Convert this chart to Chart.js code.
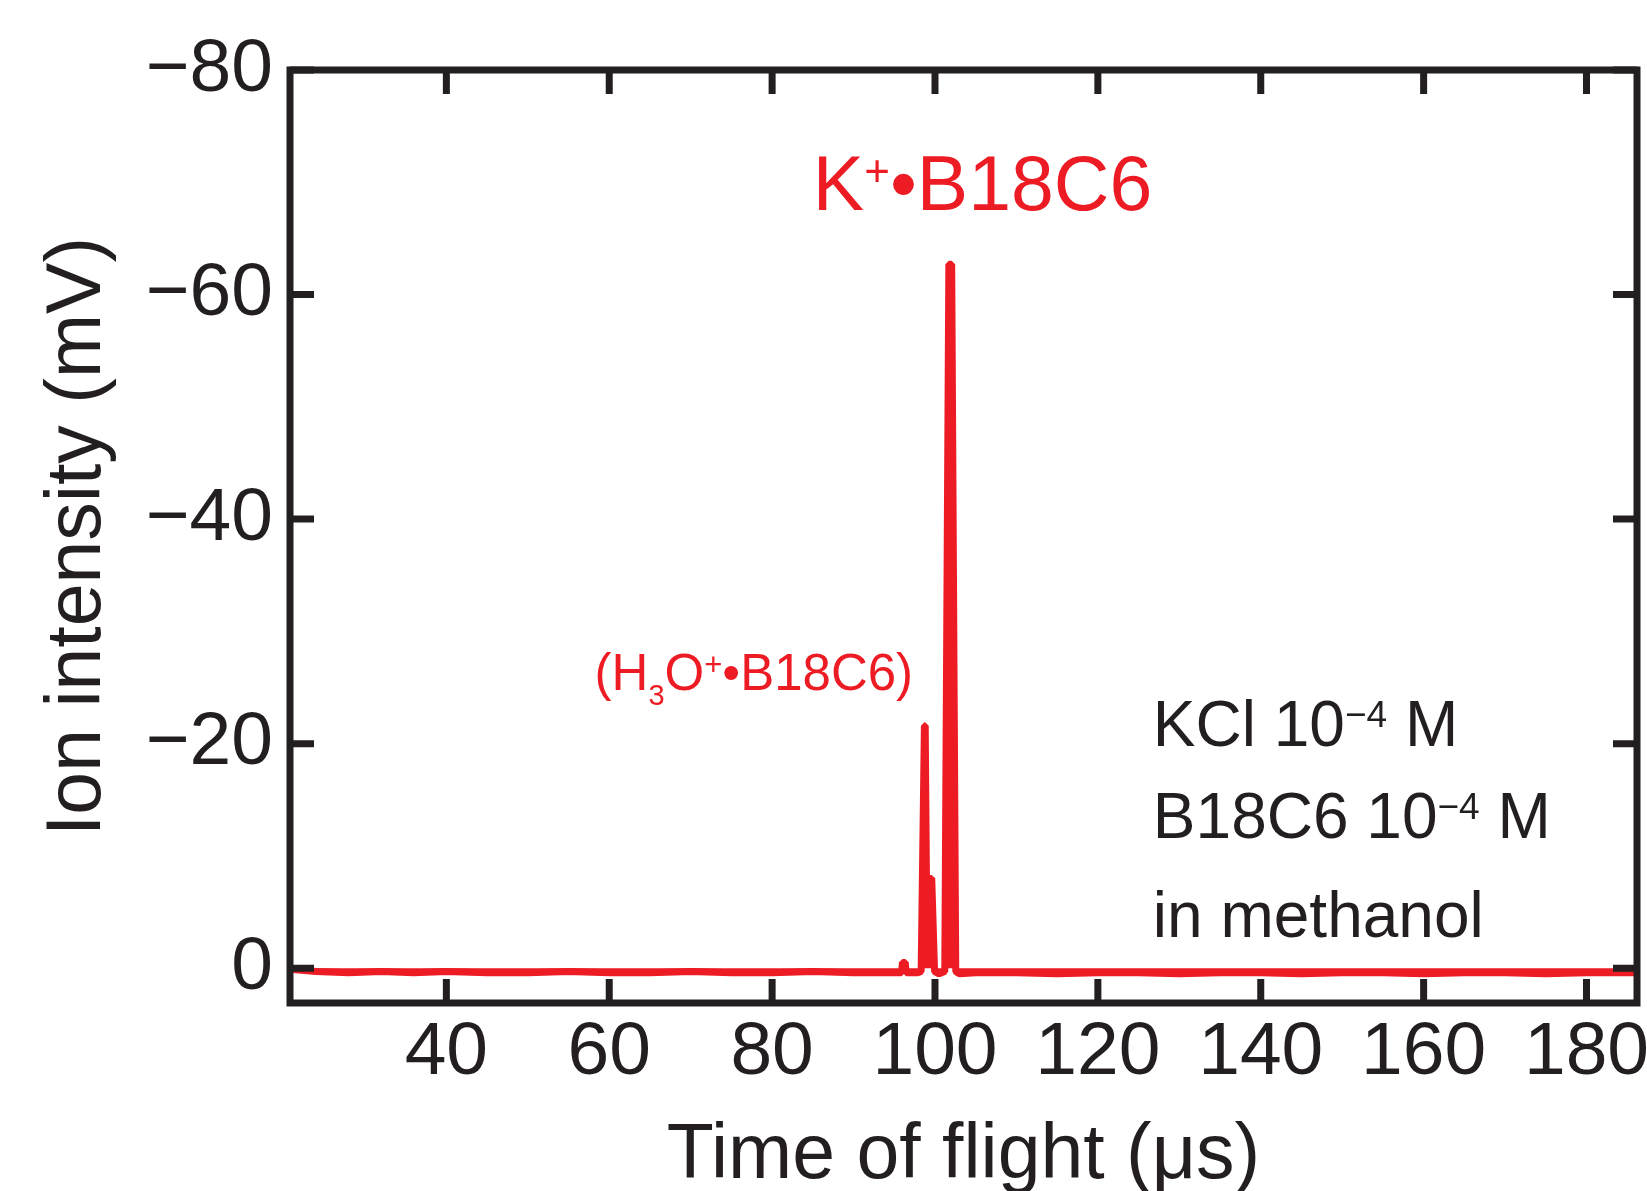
<!DOCTYPE html>
<html lang="en">
<head>
<meta charset="UTF-8">
<title>TOF spectrum K+ B18C6</title>
<script src="https://cdn.jsdelivr.net/npm/chart.js"></script>
<style>
  body, html { margin: 0; padding: 0; background: #fff; }
  canvas { display: block; }
</style>
</head>
<body>
<canvas id="chart" width="1647" height="1191"></canvas>
<script>
// trace: time of flight (us) vs ion intensity (mV)
const tofUs = [
  20.8, 24, 28, 32, 36, 40, 45, 50, 55, 60, 65, 70, 75, 80, 85, 90, 93, 95.9,
  96.0, 96.35, 96.45, 97.9, 98.3, 98.7, 98.8, 98.95, 99.6, 99.95, 100.5,
  101.2, 101.7, 102.05, 102.55, 103.0, 105, 110, 115, 120, 125, 130, 135,
  140, 145, 150, 155, 160, 165, 170, 175, 180, 183, 186.2
];
const intensityMv = [
  0.1, 0.3, 0.4, 0.3, 0.4, 0.3, 0.4, 0.4, 0.3, 0.4, 0.4, 0.3, 0.4, 0.4, 0.3, 0.4, 0.4, 0.4,
  -0.5, -0.5, 0.4, 0.4, 0.3, -21.6, -21.6, -8.0, -8.0, 0.3, 0.5,
  0.3, -62.7, -62.7, 0.3, 0.5, 0.4, 0.4, 0.5, 0.4, 0.4, 0.5, 0.4,
  0.4, 0.5, 0.4, 0.4, 0.5, 0.4, 0.4, 0.5, 0.4, 0.4, 0.4
];
const xTicks = [40, 60, 80, 100, 120, 140, 160, 180];
const yTicks = [-80, -60, -40, -20, 0];

const RED = '#ed1c24';
const INK = '#231f20';
const FONT = "'Liberation Sans', Arial, sans-serif";
const MINUS = '\u2212';

// annotations, anchored in data units (left edge, text baseline)
const notes = [
  { x: 85.0, y: -67.5, color: RED, parts: [
    { text: 'K', size: 77 },
    { text: '+', size: 44, dy: -24 },
    { text: '\u2022B18C6', size: 77 }
  ]},
  { x: 58.2, y: -24.8, color: RED, parts: [
    { text: '(H', size: 51 },
    { text: '3', size: 29, dy: 15 },
    { text: 'O', size: 51 },
    { text: '+', size: 31, dy: -15 },
    { text: '\u2022B18C6)', size: 51 }
  ]},
  { x: 126.75, y: -19.8, color: INK, parts: [
    { text: 'KCl 10', size: 64 },
    { text: MINUS + '4', size: 37, dy: -19 },
    { text: ' M', size: 64 }
  ]},
  { x: 126.75, y: -11.56, color: INK, parts: [
    { text: 'B18C6 10', size: 64 },
    { text: MINUS + '4', size: 37, dy: -19 },
    { text: ' M', size: 64 }
  ]},
  { x: 126.75, y: -2.76, color: INK, parts: [
    { text: 'in methanol', size: 64 }
  ]}
];

function drawRich(ctx, x, y, parts, color) {
  ctx.fillStyle = color;
  ctx.textAlign = 'left';
  ctx.textBaseline = 'alphabetic';
  let cx = x;
  parts.forEach(p => {
    ctx.font = p.size + 'px ' + FONT;
    ctx.fillText(p.text, cx, y + (p.dy || 0));
    cx += ctx.measureText(p.text).width;
  });
}

// box with inward ticks on all four sides
const framePlugin = {
  id: 'frame',
  afterDraw(chart) {
    const { ctx, chartArea: a, scales: { x, y } } = chart;
    const len = 24;
    ctx.save();
    ctx.strokeStyle = INK;
    ctx.lineWidth = 7;
    ctx.lineCap = 'butt';
    ctx.beginPath();
    xTicks.forEach(v => {
      const px = x.getPixelForValue(v);
      ctx.moveTo(px, a.bottom); ctx.lineTo(px, a.bottom - len);
      ctx.moveTo(px, a.top); ctx.lineTo(px, a.top + len);
    });
    yTicks.forEach(v => {
      const py = y.getPixelForValue(v);
      ctx.moveTo(a.left, py); ctx.lineTo(a.left + len, py);
      ctx.moveTo(a.right, py); ctx.lineTo(a.right - len, py);
    });
    ctx.stroke();
    ctx.lineJoin = 'miter';
    ctx.strokeRect(a.left, a.top, a.right - a.left, a.bottom - a.top);
    ctx.restore();
  }
};

const notesPlugin = {
  id: 'notes',
  afterDatasetsDraw(chart) {
    const { ctx, scales: { x, y } } = chart;
    ctx.save();
    notes.forEach(n => drawRich(ctx, x.getPixelForValue(n.x), y.getPixelForValue(n.y), n.parts, n.color));
    ctx.restore();
  }
};

new Chart(document.getElementById('chart'), {
  type: 'line',
  data: {
    datasets: [{
      data: tofUs.map((t, i) => ({ x: t, y: intensityMv[i] })),
      borderColor: RED,
      backgroundColor: RED,
      borderWidth: 7,
      borderJoinStyle: 'bevel',
      pointRadius: 0,
      tension: 0,
      fill: 'origin'
    }]
  },
  options: {
    responsive: false,
    animation: false,
    devicePixelRatio: 1,
    layout: { padding: { top: 70, right: 10, left: 0, bottom: 0 } },
    plugins: { legend: { display: false }, tooltip: { enabled: false } },
    scales: {
      x: {
        type: 'linear',
        position: 'bottom',
        min: 20.8,
        max: 186.2,
        afterBuildTicks: s => { s.ticks = xTicks.map(v => ({ value: v })); },
        afterFit: s => { s.height = 188; s.paddingLeft = 0; s.paddingRight = 0; },
        grid: { display: false, drawTicks: false },
        border: { display: false },
        ticks: { color: INK, font: { family: FONT, size: 75 }, padding: 5, maxRotation: 0 },
        title: {
          display: true,
          text: 'Time of flight (\u03bcs)',
          color: INK,
          font: { family: FONT, size: 77, lineHeight: 1 },
          padding: { top: 0, bottom: -4 }
        }
      },
      y: {
        type: 'linear',
        reverse: true,
        min: -80,
        max: 3.1,
        afterBuildTicks: s => { s.ticks = yTicks.map(v => ({ value: v })); },
        afterFit: s => { s.width = 290; s.paddingTop = 0; s.paddingBottom = 0; },
        grid: { display: false, drawTicks: false },
        border: { display: false },
        ticks: {
          color: INK,
          font: { family: FONT, size: 75 },
          padding: 17,
          callback: v => v < 0 ? MINUS + Math.abs(v) : String(v)
        },
        title: {
          display: true,
          text: 'Ion intensity (mV)',
          color: INK,
          font: { family: FONT, size: 77, lineHeight: 1 },
          padding: { top: 40, bottom: 0 }
        }
      }
    }
  },
  plugins: [framePlugin, notesPlugin]
});
</script>
</body>
</html>
